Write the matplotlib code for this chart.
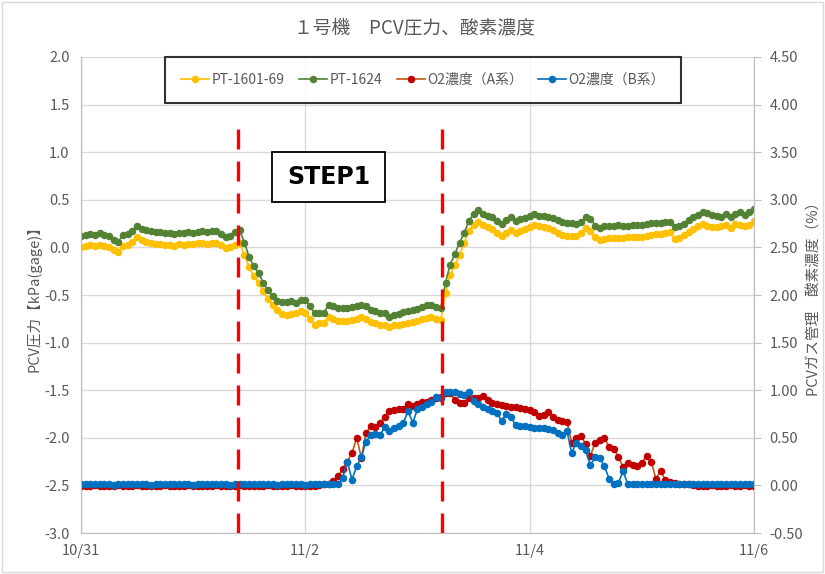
import numpy as np
import pandas as pd
import matplotlib
matplotlib.use("Agg")
import matplotlib.pyplot as plt
from matplotlib.patches import Rectangle

plt.rcParams["font.family"] = ["Noto Sans CJK JP", "DejaVu Sans"]

TITLE  = "１号機　PCV圧力、酸素濃度"
YLAB_L = "PCV圧力【kPa(gage)】"
YLAB_R = "PCVガス管理　酸素濃度（%）"
NAMES  = ["PT-1601-69", "PT-1624", "O2濃度（A系）", "O2濃度（B系）"]
START  = "2019-10-31 00:00"
TICK_DATES = ["2019-10-31", "2019-11-02", "2019-11-04", "2019-11-06"]
STEP_TIMES = ["2019-11-01 09:40", "2019-11-03 05:10"]
STEP_LABEL = "STEP1"

# hourly readings, kPa(gage)
pt1601 = [0.00, 0.01, 0.03, 0.02, 0.03, 0.01, 0.00, -0.03, -0.05, 0.02,
          0.03, 0.06, 0.11, 0.08, 0.06, 0.05, 0.04, 0.04, 0.03, 0.03,
          0.02, 0.04, 0.03, 0.04, 0.04, 0.05, 0.05, 0.04, 0.05, 0.05,
          0.03, -0.01, 0.00, 0.03, 0.05, -0.08, -0.21, -0.30, -0.37, -0.46,
          -0.54, -0.61, -0.66, -0.70, -0.71, -0.70, -0.69, -0.67, -0.69, -0.75,
          -0.81, -0.79, -0.79, -0.73, -0.75, -0.77, -0.77, -0.77, -0.76, -0.75,
          -0.73, -0.75, -0.78, -0.79, -0.81, -0.81, -0.84, -0.82, -0.81, -0.80,
          -0.79, -0.78, -0.77, -0.75, -0.74, -0.73, -0.75, -0.76, -0.48, -0.29,
          -0.18, -0.08, 0.05, 0.17, 0.24, 0.27, 0.24, 0.21, 0.19, 0.15,
          0.12, 0.15, 0.18, 0.15, 0.17, 0.19, 0.21, 0.24, 0.22, 0.21,
          0.20, 0.18, 0.15, 0.13, 0.12, 0.12, 0.12, 0.15, 0.20, 0.17,
          0.11, 0.08, 0.09, 0.10, 0.10, 0.10, 0.10, 0.11, 0.11, 0.11,
          0.11, 0.12, 0.13, 0.14, 0.14, 0.15, 0.16, 0.09, 0.10, 0.13,
          0.16, 0.19, 0.22, 0.25, 0.23, 0.21, 0.21, 0.22, 0.24, 0.20,
          0.25, 0.24, 0.22, 0.24, 0.28]

pt1624 = [0.12, 0.13, 0.14, 0.13, 0.15, 0.13, 0.12, 0.08, 0.06, 0.13,
          0.14, 0.17, 0.22, 0.19, 0.18, 0.17, 0.16, 0.16, 0.15, 0.15,
          0.14, 0.15, 0.15, 0.16, 0.15, 0.16, 0.17, 0.16, 0.17, 0.17,
          0.14, 0.11, 0.12, 0.16, 0.18, 0.05, -0.10, -0.20, -0.27, -0.37,
          -0.45, -0.51, -0.56, -0.57, -0.57, -0.56, -0.58, -0.55, -0.55, -0.62,
          -0.69, -0.69, -0.69, -0.60, -0.62, -0.64, -0.64, -0.64, -0.63, -0.62,
          -0.60, -0.62, -0.66, -0.67, -0.69, -0.69, -0.73, -0.71, -0.70, -0.68,
          -0.67, -0.66, -0.65, -0.63, -0.61, -0.61, -0.63, -0.64, -0.37, -0.18,
          -0.07, 0.05, 0.15, 0.28, 0.35, 0.39, 0.35, 0.33, 0.32, 0.28,
          0.25, 0.29, 0.32, 0.28, 0.30, 0.31, 0.33, 0.35, 0.33, 0.33,
          0.32, 0.31, 0.29, 0.27, 0.26, 0.26, 0.25, 0.27, 0.32, 0.30,
          0.23, 0.20, 0.22, 0.23, 0.23, 0.24, 0.23, 0.23, 0.24, 0.24,
          0.24, 0.25, 0.26, 0.26, 0.26, 0.27, 0.27, 0.21, 0.22, 0.25,
          0.29, 0.32, 0.34, 0.37, 0.36, 0.34, 0.33, 0.32, 0.35, 0.32,
          0.35, 0.37, 0.34, 0.37, 0.40]

# hourly readings, %
o2_a = [-0.01, -0.01, -0.01, 0.00, -0.01, -0.01, -0.01, -0.01, 0.00, -0.01,
        -0.01, -0.01, 0.00, -0.01, -0.01, -0.01, -0.01, -0.01, 0.00, -0.01,
        -0.01, -0.01, -0.01, 0.00, -0.01, -0.01, -0.01, -0.01, -0.01, 0.00,
        -0.01, -0.01, -0.01, -0.01, 0.00, -0.01, -0.01, -0.01, -0.01, -0.01,
        0.00, -0.01, -0.01, -0.01, -0.01, 0.00, -0.01, -0.01, -0.01, -0.01,
        -0.01, 0.00, 0.01, 0.01, 0.05, 0.10, 0.17, 0.25, 0.34, 0.50,
        0.29, 0.55, 0.62, 0.61, 0.66, 0.72, 0.78, 0.79, 0.80, 0.80,
        0.85, 0.83, 0.86, 0.88, 0.88, 0.90, 0.92, 0.93, 0.97, 0.97,
        0.90, 0.87, 0.87, 0.92, 0.92, 0.92, 0.94, 0.90, 0.87, 0.86,
        0.84, 0.83, 0.82, 0.82, 0.81, 0.80, 0.79, 0.77, 0.73, 0.74,
        0.77, 0.72, 0.69, 0.68, 0.67, 0.45, 0.50, 0.52, 0.43, 0.31,
        0.45, 0.48, 0.50, 0.40, 0.38, 0.30, 0.19, 0.24, 0.21, 0.20,
        0.24, 0.31, 0.25, 0.07, 0.15, 0.06, 0.04, 0.03, 0.02, 0.01,
        0.01, 0.00, -0.01, -0.01, -0.01, 0.00, -0.01, -0.01, -0.01, 0.00,
        -0.01, -0.01, 0.00, -0.01, -0.01]

o2_b = [0.01, 0.01, 0.01, 0.02, 0.01, 0.01, 0.01, 0.00, 0.01, 0.01,
        0.02, 0.01, 0.01, 0.01, 0.01, 0.00, 0.01, 0.01, 0.01, 0.02,
        0.01, 0.01, 0.01, 0.01, 0.00, 0.01, 0.01, 0.02, 0.01, 0.01,
        0.01, 0.01, 0.00, 0.01, 0.01, 0.01, 0.02, 0.01, 0.01, 0.01,
        0.01, 0.01, 0.00, 0.01, 0.01, 0.01, 0.01, 0.01, 0.00, 0.01,
        0.01, 0.02, 0.01, 0.01, 0.01, 0.01, 0.08, 0.25, 0.06, 0.20,
        0.30, 0.46, 0.53, 0.54, 0.53, 0.61, 0.57, 0.60, 0.62, 0.66,
        0.78, 0.66, 0.80, 0.82, 0.85, 0.88, 0.93, 0.92, 0.98, 0.98,
        0.98, 0.96, 0.95, 0.98, 0.89, 0.85, 0.82, 0.80, 0.78, 0.76,
        0.68, 0.75, 0.72, 0.63, 0.62, 0.62, 0.61, 0.60, 0.60, 0.60,
        0.59, 0.58, 0.55, 0.53, 0.57, 0.34, 0.45, 0.41, 0.37, 0.21,
        0.30, 0.29, 0.20, 0.07, 0.02, 0.03, 0.15, 0.01, 0.01, 0.01,
        0.01, 0.01, 0.01, 0.01, 0.02, 0.01, 0.01, 0.01, 0.01, 0.01,
        0.01, 0.01, 0.01, 0.02, 0.01, 0.01, 0.01, 0.01, 0.01, 0.01,
        0.01, 0.02, 0.01, 0.01, 0.01]

times = pd.date_range(START, periods=len(pt1624), freq="h")

GREY  = "#595959"
GRID  = "#D9D9D9"
AXCOL = "#BFBFBF"

fig = plt.figure(figsize=(8.25, 5.74), dpi=100)
ax = fig.add_axes([0.098, 0.0714, 0.816, 0.8293])
ax2 = ax.twinx()

l1, = ax.plot(times, pt1601, color="#FFC000", lw=1.2, marker="o", ms=4.4, mec="#FFC000")
l2, = ax.plot(times, pt1624, color="#548235", lw=1.2, marker="o", ms=4.4, mec="#548235")
l3, = ax2.plot(times, o2_a, color="#C65911", lw=1.2, marker="o", ms=4.4,
               mfc="#C00000", mec="#C00000")
l4, = ax2.plot(times, o2_b, color="#0070C0", lw=1.2, marker="o", ms=4.4,
               mfc="#0070C0", mec="#0070C0")

ax.set_ylim(-3.0, 2.0)
ax.set_yticks(np.arange(-3.0, 2.01, 0.5))
ax.yaxis.set_major_formatter(plt.FormatStrFormatter("%.1f"))
ax2.set_ylim(-0.5, 4.5)
ax2.set_yticks(np.arange(-0.5, 4.51, 0.5))
ax2.yaxis.set_major_formatter(plt.FormatStrFormatter("%.2f"))

ticks = pd.to_datetime(TICK_DATES)
ax.set_xlim(ticks[0], ticks[-1])
ax.set_xticks(ticks)
ax.set_xticklabels([f"{d.month}/{d.day}" for d in ticks])

ax.grid(True, color=GRID, lw=1)
ax.set_axisbelow(True)
for a in (ax, ax2):
    a.spines["top"].set_visible(False)
    for s in ("left", "right", "bottom"):
        a.spines[s].set_color(AXCOL)
ax.tick_params(axis="y", length=0, labelsize=10.5, labelcolor=GREY, pad=8)
ax.tick_params(axis="x", length=0, labelsize=10.5, labelcolor=GREY, pad=8)
ax2.tick_params(axis="y", length=5, color=AXCOL, labelsize=10.5, labelcolor=GREY, pad=6)

ax.set_ylabel(YLAB_L, color=GREY, fontsize=10.5, labelpad=2)
ax2.set_ylabel(YLAB_R, color=GREY, fontsize=10.5, labelpad=3)
fig.text(0.502, 0.951, TITLE, ha="center", va="center", color=GREY, fontsize=13.5)

# step lines and label
for t in STEP_TIMES:
    ax2.axvline(pd.Timestamp(t), ymin=0, ymax=0.863, color="#FF0000", lw=2.4,
                dashes=(6, 3.6), zorder=5)
ax2.add_patch(Rectangle((0.284, 0.695), 0.168, 0.105, transform=ax2.transAxes,
                        facecolor="white", edgecolor="black", lw=1.3, zorder=6))
ax2.text(0.368, 0.748, STEP_LABEL, transform=ax2.transAxes, ha="center", va="center",
         fontsize=17, fontweight="bold", family="DejaVu Sans", color="black", zorder=7)

leg = ax2.legend([l1, l2, l3, l4], NAMES, ncol=4, loc="center",
                 bbox_to_anchor=(0.513, 0.861), bbox_transform=fig.transFigure,
                 fontsize=10, frameon=True, fancybox=False, handlelength=2.0,
                 handletextpad=0.2, columnspacing=1.05, borderpad=1.15)
leg.get_frame().set_edgecolor("black")
leg.get_frame().set_linewidth(1.5)
for t in leg.get_texts():
    t.set_color(GREY)
leg.set_zorder(10)

fig.add_artist(Rectangle((0.003, 0.003), 0.994, 0.994, transform=fig.transFigure,
                         fill=False, edgecolor=GRID, lw=1))

fig.savefig("out.png", dpi=100)
